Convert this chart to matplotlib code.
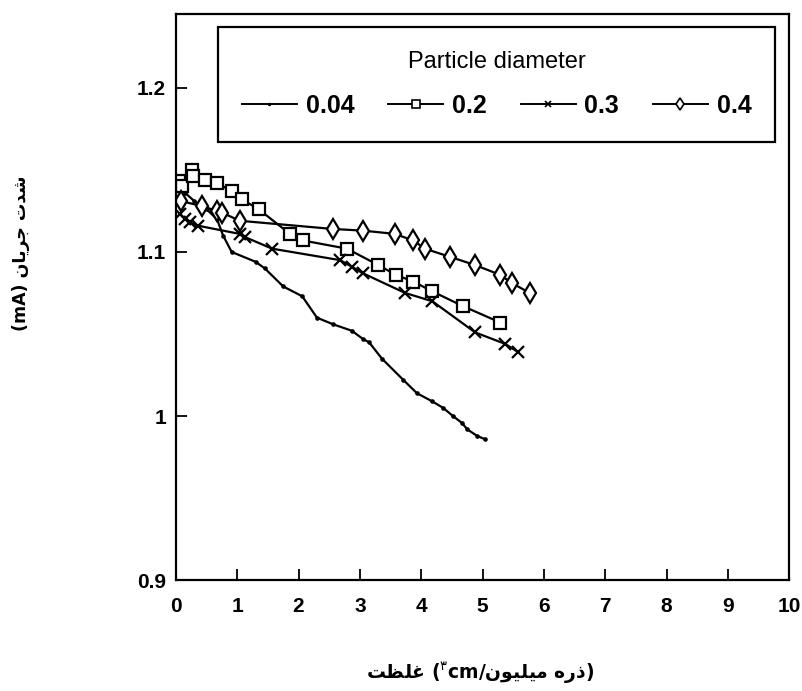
import matplotlib
matplotlib.use('Agg')
import matplotlib.pyplot as plt
from matplotlib.lines import Line2D

# ---------------- data ----------------
x_004 = [0.05, 0.10, 0.15, 0.30, 0.50, 0.67, 0.77, 0.91, 1.30, 1.45, 1.75, 2.06, 2.30, 2.56,
         2.87, 3.05, 3.15, 3.36, 3.71, 3.93, 4.18, 4.36, 4.52, 4.66, 4.75, 4.91, 5.04]
y_004 = [1.140, 1.139, 1.136, 1.131, 1.126, 1.120, 1.110, 1.100, 1.094, 1.090, 1.079, 1.073,
         1.060, 1.056, 1.052, 1.047, 1.045, 1.035, 1.022, 1.014, 1.009, 1.005, 1.000, 0.996,
         0.992, 0.988, 0.986]

x_02 = [0.05, 0.10, 0.26, 0.28, 0.47, 0.67, 0.91, 1.08, 1.35, 1.86, 2.07, 2.79, 3.30, 3.59,
        3.87, 4.18, 4.68, 5.29]
y_02 = [1.143, 1.140, 1.150, 1.146, 1.144, 1.142, 1.137, 1.132, 1.126, 1.111, 1.107, 1.102,
        1.092, 1.086, 1.082, 1.076, 1.067, 1.057]

x_03 = [0.07, 0.15, 0.23, 0.36, 1.04, 1.13, 1.57, 2.68, 2.87, 3.05, 3.74, 4.18, 4.88, 5.37, 5.58]
y_03 = [1.123, 1.120, 1.118, 1.116, 1.111, 1.109, 1.102, 1.095, 1.091, 1.087, 1.075, 1.070,
        1.051, 1.044, 1.039]

x_04 = [0.08, 0.42, 0.67, 0.75, 1.04, 2.56, 3.05, 3.57, 3.87, 4.06, 4.47, 4.88, 5.29, 5.48, 5.77]
y_04 = [1.131, 1.128, 1.125, 1.124, 1.119, 1.114, 1.113, 1.111, 1.107, 1.102, 1.097, 1.092,
        1.086, 1.081, 1.075]

series_labels = ['0.04', '0.2', '0.3', '0.4']
legend_title = 'Particle diameter'
x_ticks = [0, 1, 2, 3, 4, 5, 6, 7, 8, 9, 10]
y_ticks = [0.9, 1.0, 1.1, 1.2]
y_tick_labels = ['0.9', '1', '1.1', '1.2']

# Persian label words (logical order)
xlabel_words = ['غلظت', 'میلیون', 'ذره']
ylabel_words = ['شدت', 'جریان']

# ---------------- minimal Arabic-script shaping ----------------
FORMS = {  # iso, fin, init, med
    'ش': ('\uFEB5', '\uFEB6', '\uFEB7', '\uFEB8'),
    'ت': ('\uFE95', '\uFE96', '\uFE97', '\uFE98'),
    'ج': ('\uFE9D', '\uFE9E', '\uFE9F', '\uFEA0'),
    'ی': ('\uFBFC', '\uFBFD', '\uFEF3', '\uFEF4'),
    'ن': ('\uFEE5', '\uFEE6', '\uFEE7', '\uFEE8'),
    'غ': ('\uFECD', '\uFECE', '\uFECF', '\uFED0'),
    'ل': ('\uFEDD', '\uFEDE', '\uFEDF', '\uFEE0'),
    'ظ': ('\uFEC5', '\uFEC6', '\uFEC7', '\uFEC8'),
    'م': ('\uFEE1', '\uFEE2', '\uFEE3', '\uFEE4'),
    'ه': ('\uFEE9', '\uFEEA', '\uFEEB', '\uFEEC'),
    'د': ('\uFEA9', '\uFEAA'),
    'ذ': ('\uFEAB', '\uFEAC'),
    'ر': ('\uFEAD', '\uFEAE'),
    'ا': ('\uFE8D', '\uFE8E'),
    'و': ('\uFEED', '\uFEEE'),
}


def shape(word):
    out = []
    n = len(word)
    for i, ch in enumerate(word):
        f = FORMS[ch]
        prev_joins = i > 0 and len(FORMS[word[i - 1]]) == 4
        next_joins = len(f) == 4 and i < n - 1
        if prev_joins and next_joins:
            out.append(f[3])
        elif prev_joins:
            out.append(f[1])
        elif next_joins:
            out.append(f[2])
        else:
            out.append(f[0])
    return ''.join(reversed(out))


# ---------------- figure ----------------
plt.rcParams['font.family'] = ['Liberation Sans', 'DejaVu Sans']
plt.rcParams['mathtext.fontset'] = 'dejavusans'

fig = plt.figure(figsize=(8.03, 6.91), dpi=100)
ax = fig.add_axes([0.219, 0.160, 0.764, 0.820])

lw = 1.6
ax.plot(x_004, y_004, color='black', lw=lw, marker='o', ms=2.3, label=series_labels[0])
ax.plot(x_02, y_02, color='black', lw=lw, marker='s', ms=9, mfc='white', mew=1.6,
        label=series_labels[1])
ax.plot(x_03, y_03, color='black', lw=lw, marker='x', ms=9, mew=1.6, label=series_labels[2])
ax.plot(x_04, y_04, color='black', lw=lw, marker='d', ms=10, mfc='white', mew=1.6,
        label=series_labels[3])

ax.set_xlim(0, 10)
ax.set_ylim(0.9, 1.245)
ax.set_xticks(x_ticks)
ax.set_xticklabels([str(t) for t in x_ticks])
ax.set_yticks(y_ticks)
ax.set_yticklabels(y_tick_labels)
ax.tick_params(direction='in', length=8, width=1.3, labelsize=15)
ax.tick_params(axis='x', pad=12)
ax.tick_params(axis='y', pad=7)
for lab in ax.get_xticklabels() + ax.get_yticklabels():
    lab.set_fontweight('bold')
for s in ax.spines.values():
    s.set_linewidth(1.6)

handles = [
    Line2D([], [], color='black', lw=1.4, marker='o', ms=1.5),
    Line2D([], [], color='black', lw=1.4, marker='s', ms=6, mfc='white', mew=1.2),
    Line2D([], [], color='black', lw=1.4, marker='x', ms=5, mew=1.2),
    Line2D([], [], color='black', lw=1.4, marker='d', ms=6, mfc='white', mew=1.2),
]
leg = ax.legend(handles, series_labels, title=legend_title, ncol=4, loc='upper left',
                bbox_to_anchor=(0.069, 0.786, 0.908, 0.19), mode='expand', borderaxespad=0,
                frameon=True, fancybox=False, edgecolor='black', framealpha=1,
                prop={'size': 18, 'weight': 'bold'}, title_fontsize=17,
                handlelength=2.2, handletextpad=0.35, borderpad=0.95, columnspacing=1.0)
leg.get_frame().set_linewidth(1.6)
leg.get_title().set_fontweight('normal')
leg._legend_box.sep = 15

xlabel = shape(xlabel_words[0]) + ' ($^{\u06F3}$cm/' + shape(xlabel_words[1]) + ' ' + \
    shape(xlabel_words[2]) + ')'
ylabel = '(mA) ' + shape(ylabel_words[1]) + ' ' + shape(ylabel_words[0])
fig.text(480 / 803, 1 - 673 / 691, xlabel, ha='center', va='center', fontsize=13.5,
         family='DejaVu Sans', weight='bold')
fig.text(21 / 803, 1 - 253 / 691, ylabel, ha='center', va='center', fontsize=12.5,
         rotation=90, family='DejaVu Sans', weight='bold')

fig.savefig('out.png', dpi=100)
